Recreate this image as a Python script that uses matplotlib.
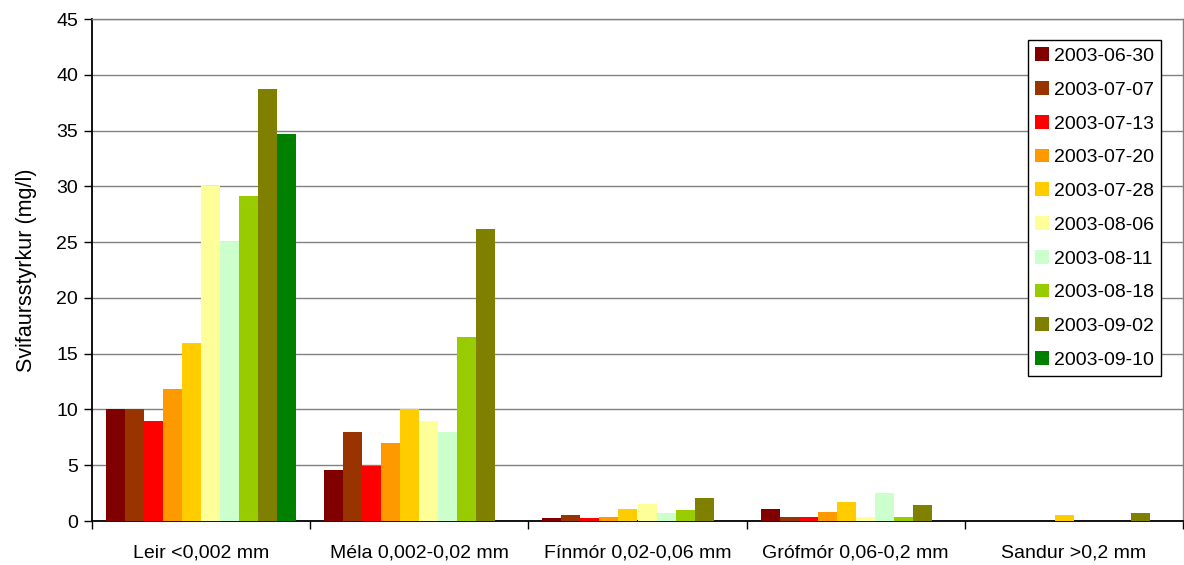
import numpy as np
import matplotlib.pyplot as plt

plt.rcParams["font.family"] = ["Liberation Sans", "DejaVu Sans"]

# Kornastærðarflokkar og sýnatökudagar
flokkar = ["Leir <0,002 mm", "Méla 0,002-0,02 mm", "Fínmór 0,02-0,06 mm",
           "Grófmór 0,06-0,2 mm", "Sandur >0,2 mm"]
dagsetningar = ["2003-06-30", "2003-07-07", "2003-07-13", "2003-07-20",
                "2003-07-28", "2003-08-06", "2003-08-11", "2003-08-18",
                "2003-09-02", "2003-09-10"]
litir = ["#800000", "#993300", "#FF0000", "#FF9900", "#FFCC00",
         "#FFFF99", "#CCFFCC", "#99CC00", "#808000", "#008000"]

# Svifaursstyrkur (mg/l), ein röð á hverja dagsetningu
s_0630 = [10.0, 4.6, 0.25, 1.05, 0.0]
s_0707 = [10.0, 8.0, 0.55, 0.35, 0.0]
s_0713 = [9.0, 4.9, 0.25, 0.35, 0.0]
s_0720 = [11.8, 7.0, 0.35, 0.8, 0.0]
s_0728 = [16.0, 10.0, 1.05, 1.7, 0.5]
s_0806 = [30.0, 9.0, 1.5, 0.35, 0.0]
s_0811 = [25.0, 8.0, 0.7, 2.5, 0.0]
s_0818 = [29.1, 16.5, 0.95, 0.35, 0.0]
s_0902 = [38.7, 26.2, 2.05, 1.4, 0.7]
s_0910 = [34.7, 0.0, 0.0, 0.0, 0.0]
raðir = [s_0630, s_0707, s_0713, s_0720, s_0728,
         s_0806, s_0811, s_0818, s_0902, s_0910]

fig = plt.figure(figsize=(11.84, 5.65), dpi=100)
ax = fig.add_axes([92 / 1184, 44 / 565, 1091 / 1184, 502 / 565])

x = np.arange(len(flokkar))
n = len(raðir)
breidd = 1 / (n + 1.47)
for i, (gildi, litur, dags) in enumerate(zip(raðir, litir, dagsetningar)):
    ax.bar(x + (i - (n - 1) / 2) * breidd, gildi, width=breidd,
           color=litur, label=dags, zorder=3, linewidth=0)

ax.set_xlim(-0.5, len(flokkar) - 0.5)
ax.set_ylim(0, 45)
ax.set_yticks(np.arange(0, 46, 5))
ax.yaxis.grid(True, color="#808080", linewidth=1, zorder=0)

# merki á milli flokka, nöfn í miðju
ax.set_xticks(np.arange(-0.5, len(flokkar), 1))
ax.set_xticklabels([])
ax.set_xticks(x, minor=True)
ax.set_xticklabels(flokkar, minor=True)
ax.tick_params(axis="x", which="major", direction="out", length=6, width=1)
ax.tick_params(axis="x", which="minor", length=0, pad=17, labelsize=14)
ax.tick_params(axis="y", direction="out", length=6, width=1, pad=4, labelsize=14)

for s in ["left", "bottom"]:
    ax.spines[s].set_color("black")
    ax.spines[s].set_linewidth(1.3)
for s in ["top", "right"]:
    ax.spines[s].set_color("#808080")
    ax.spines[s].set_linewidth(1)

ax.set_ylabel("Svifaursstyrkur (mg/l)", fontsize=15.5, labelpad=14)

leg = ax.legend(loc="upper left", bbox_to_anchor=(0.858, 0.958),
                fontsize=14, frameon=True, fancybox=False, framealpha=1,
                edgecolor="black", handlelength=0.7, handleheight=0.7,
                handletextpad=0.25, labelspacing=0.83, borderpad=0.38,
                borderaxespad=0)
leg.get_frame().set_linewidth(1)

fig.savefig("out.png", dpi=100)
